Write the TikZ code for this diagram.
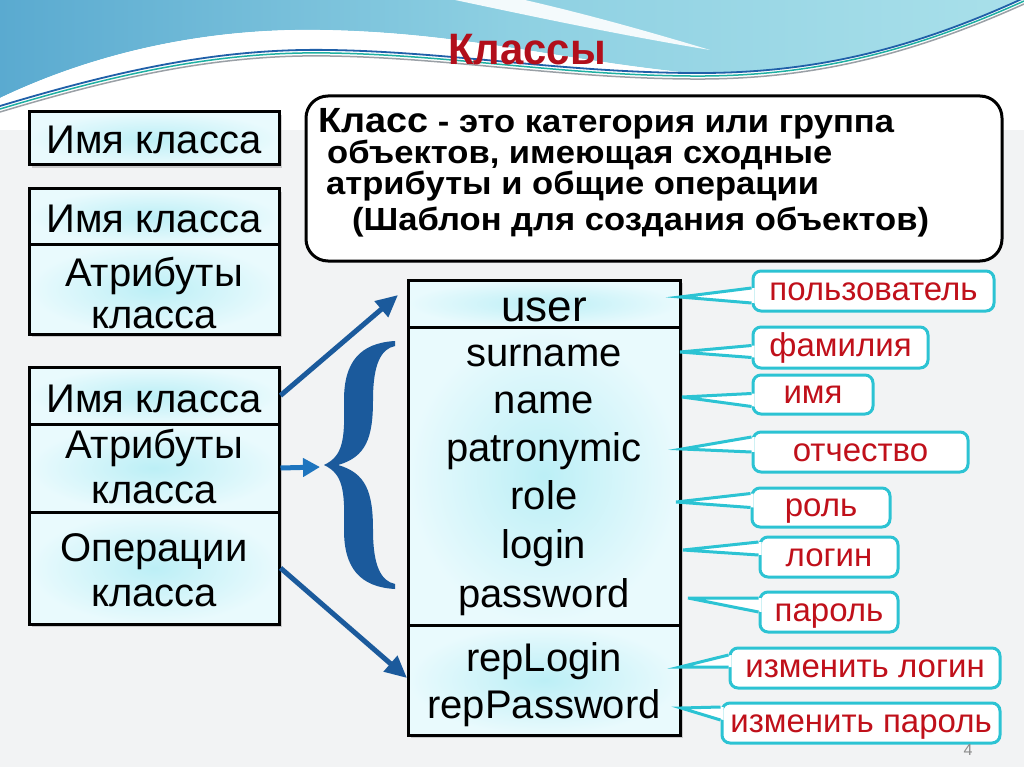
\documentclass[tikz,border=0pt]{standalone}
\usepackage{fontspec}
\setmainfont{Liberation Sans}
\newfontfamily\deffont[FakeStretch=1.08]{Liberation Sans}
\newfontfamily\titlefont[FakeStretch=0.95]{Liberation Sans}
\usetikzlibrary{calc,arrows.meta,shadows}
\definecolor{titlered}{HTML}{B20F1B}
\definecolor{callred}{HTML}{C0101A}
\definecolor{callcyan}{HTML}{2CC3D3}
\definecolor{arrowblue}{HTML}{1B5A9C}
\definecolor{arrowblue2}{HTML}{1E74BE}
\definecolor{boxin}{HTML}{BCEFF6}
\definecolor{boxout}{HTML}{E9FAFD}
\definecolor{bgc}{HTML}{F2F3F4}
\definecolor{waveblue}{HTML}{5AAAD0}
\definecolor{wavemid}{HTML}{8ED0E2}
\definecolor{wavecyan}{HTML}{A9E0EA}
\definecolor{lineblue}{HTML}{1F5FA8}
\definecolor{lineteal}{HTML}{1FB0A2}
\definecolor{linegray}{HTML}{9AA0A6}
\tikzset{
  umlbox/.style={draw=black, line width=3pt, inner sep=0pt, shade, inner color=boxin, outer color=boxout,
    drop shadow={shadow xshift=3pt, shadow yshift=-3pt, opacity=0.35}},
  big/.style={font=\fontsize{40}{48}\selectfont, text=black, anchor=base, inner sep=0pt},
  deftext/.style={font=\deffont\bfseries\fontsize{32}{36}\selectfont, text=black, anchor=base west, inner sep=0pt},
  defbox/.style={draw=black, line width=3pt, fill=white, rounded corners=22pt, inner sep=0pt},
  callbox/.style={draw=callcyan, line width=3pt, fill=white, rounded corners=8pt, inner sep=0pt,
    font=\fontsize{33}{38}\selectfont, text=callred, text height=25pt, text depth=7pt},
  callline/.style={draw=callcyan, line width=3pt, line join=miter},
  conn/.style={draw=arrowblue, line width=5pt, -{Triangle[length=22pt,width=20pt]}},
  connshort/.style={draw=arrowblue2, line width=5pt, -{Triangle[length=17pt,width=18pt]}},
}
\newcommand\callwedge[4]{%
  \fill[white] ($(#1.west)+(3,#3)$) -- (#2) -- ($(#1.west)+(3,#4)$) -- cycle;
  \draw[callline] ($(#1.west)+(0,#3)$) -- (#2) -- ($(#1.west)+(0,#4)$);}
\begin{document}
\begin{tikzpicture}[x=1pt,y=-1pt]
\useasboundingbox (0,0) rectangle (1024,767);
% background
\fill[bgc] (0,0) rectangle (1024,767);
\fill[white] (0,0) rectangle (1024,130);
\shade[left color=waveblue, right color=wavecyan, middle color=wavemid]
  (0,0) -- (1024,0) -- (1024,-2) .. controls (900,55) and (800,74) .. (690,73)
  .. controls (560,60) and (460,32) .. (320,30) .. controls (200,28) and (90,55) .. (0,98) -- cycle;
\fill[white, opacity=0.9] (455,0) -- (525,0) .. controls (590,15) and (650,32) .. (710,50)
  .. controls (620,35) and (540,18) .. (455,0) -- cycle;
\fill[white] (0,98) .. controls (90,55) and (200,28) .. (320,30) .. controls (460,32) and (560,60) .. (690,73)
  .. controls (560,62) and (450,48) .. (330,50) .. controls (220,50) and (120,72) .. (0,108) -- cycle;
\draw[linegray, line width=1.5pt] (0,112) .. controls (120,76) and (220,54) .. (330,56) .. controls (450,58) and (560,78) .. (690,79) .. controls (800,80) and (900,60) .. (1024,4);
\draw[lineteal, line width=1.5pt] (0,109) .. controls (120,73) and (220,51) .. (330,53) .. controls (450,55) and (560,75) .. (690,76) .. controls (800,77) and (900,57) .. (1024,1);
\draw[lineblue, line width=1.8pt] (0,106) .. controls (120,70) and (220,48) .. (330,50) .. controls (450,52) and (560,72) .. (690,73) .. controls (800,74) and (900,55) .. (1024,-2);

% title
\node[font=\titlefont\bfseries\fontsize{44}{50}\selectfont, text=titlered, anchor=base, inner sep=0pt] (title) at (527,65) {Классы};

% left boxes
\node[umlbox, minimum width=250pt, minimum height=53pt] (n1) at (154,138.5) {};
\node[big] (n1t) at (154,154) {Имя класса};

\node[umlbox, minimum width=250pt, minimum height=55pt] (b2a) at (154,216.5) {};
\node[umlbox, minimum width=250pt, minimum height=90pt] (b2b) at (154,289) {};
\node[big] (b2at) at (154,233) {Имя класса};
\node[big] (b2bt1) at (154,286) {Атрибуты};
\node[big] (b2bt2) at (154,328) {класса};

\node[umlbox, minimum width=250pt, minimum height=57pt] (b3a) at (154,395.5) {};
\node[umlbox, minimum width=250pt, minimum height=88pt] (b3b) at (154,468) {};
\node[umlbox, minimum width=250pt, minimum height=112pt] (b3c) at (154,568) {};
\node[big] (b3at) at (154,412) {Имя класса};
\node[big] (b3bt1) at (154,458) {Атрибуты};
\node[big] (b3bt2) at (154,503) {класса};
\node[big] (b3ct1) at (154,561) {Операции};
\node[big] (b3ct2) at (154,606) {класса};

% definition box
\node[defbox, minimum width=696pt, minimum height=165pt] (def) at (654,178.5) {};
\node[deftext] (d1) at (318,133) {{\fontsize{35}{40}\selectfont Класс} - это категория или группа};
\node[deftext] (d2) at (327,164) {объектов, имеющая сходные};
\node[deftext] (d3) at (326,195) {атрибуты и общие операции};
\node[deftext] (d4) at (352,231) {(Шаблон для создания объектов)};

% class box
\node[umlbox, minimum width=272pt, minimum height=47pt] (ub) at (544,303.5) {};
\node[umlbox, minimum width=272pt, minimum height=298pt] (ab) at (544,476) {};
\node[umlbox, minimum width=272pt, minimum height=110pt] (ob) at (544,680) {};
\node[big, font=\fontsize{44}{50}\selectfont] (ut) at (544,321) {user};
\node[big] (a1) at (544,366) {surname};
\node[big] (a2) at (544,413) {name};
\node[big] (a3) at (544,461) {patronymic};
\node[big] (a4) at (544,509) {role};
\node[big] (a5) at (544,558) {login};
\node[big] (a6) at (544,607) {password};
\node[big] (o1) at (544,671) {repLogin};
\node[big] (o2) at (544,718) {repPassword};

% brace
\fill[arrowblue] (395,341) .. controls (360,343) and (344,362) .. (344,400)
  .. controls (345,440) and (343,456) .. (324,465)
  .. controls (343,474) and (345,490) .. (344,530)
  .. controls (344,568) and (360,587) .. (395,589)
  -- (395,584) .. controls (381,581) and (373,566) .. (373,530)
  .. controls (373,492) and (366,473) .. (338,465)
  .. controls (366,457) and (373,438) .. (373,400)
  .. controls (373,364) and (381,349) .. (395,346) -- cycle;

% arrows
\coordinate (t1) at (398,295);
\coordinate (t2) at (320,467);
\coordinate (t3) at (407,678);
\draw[conn] (b3a.east) -- (t1);
\draw[connshort] (b3b.east) -- (t2);
\draw[conn] (b3c.east) -- (t3);

% callouts
\node[callbox, minimum width=241pt, minimum height=40pt] (c1) at (873.5,291) {пользователь};
\node[callbox, minimum width=175pt, minimum height=41pt] (c2) at (840.5,347.5) {фамилия};
\node[callbox, minimum width=120pt, minimum height=39pt] (c3) at (813,394.5) {имя};
\node[callbox, minimum width=215pt, minimum height=40pt] (c4) at (860.5,452) {отчество\hspace{22pt}};
\node[callbox, minimum width=138pt, minimum height=39pt] (c5) at (821,507.5) {роль};
\node[callbox, minimum width=138pt, minimum height=40pt] (c6) at (829,557) {логин};
\node[callbox, minimum width=138pt, minimum height=40pt] (c7) at (829,612) {пароль};
\node[callbox, minimum width=270pt, minimum height=40pt] (c8) at (865,668) {изменить логин};
\node[callbox, minimum width=278pt, minimum height=40pt] (c9) at (861,723) {изменить пароль};

\coordinate (p1) at (680,297);
\coordinate (p2) at (680,352);
\coordinate (p3) at (682,397);
\coordinate (p4) at (682,449);
\coordinate (p5) at (676,502);
\coordinate (p6) at (683,550);
\coordinate (p7) at (688,598);
\coordinate (p8) at (680,667);
\coordinate (p9) at (681,708);
\callwedge{c1}{p1}{-3}{12}
\callwedge{c2}{p2}{-2}{10}
\callwedge{c3}{p3}{-1}{12}
\callwedge{c4}{p4}{-15}{0}
\callwedge{c5}{p5}{-14}{0}
\callwedge{c6}{p6}{-15}{-2}
\callwedge{c7}{p7}{-14}{0}
\callwedge{c8}{p8}{-13}{-1}
\callwedge{c9}{p9}{-16}{-3}

% page number
\node[font=\fontsize{16}{18}\selectfont, text=black!45, anchor=base, inner sep=0pt] (pg) at (968,755) {4};
\end{tikzpicture}
\end{document}
